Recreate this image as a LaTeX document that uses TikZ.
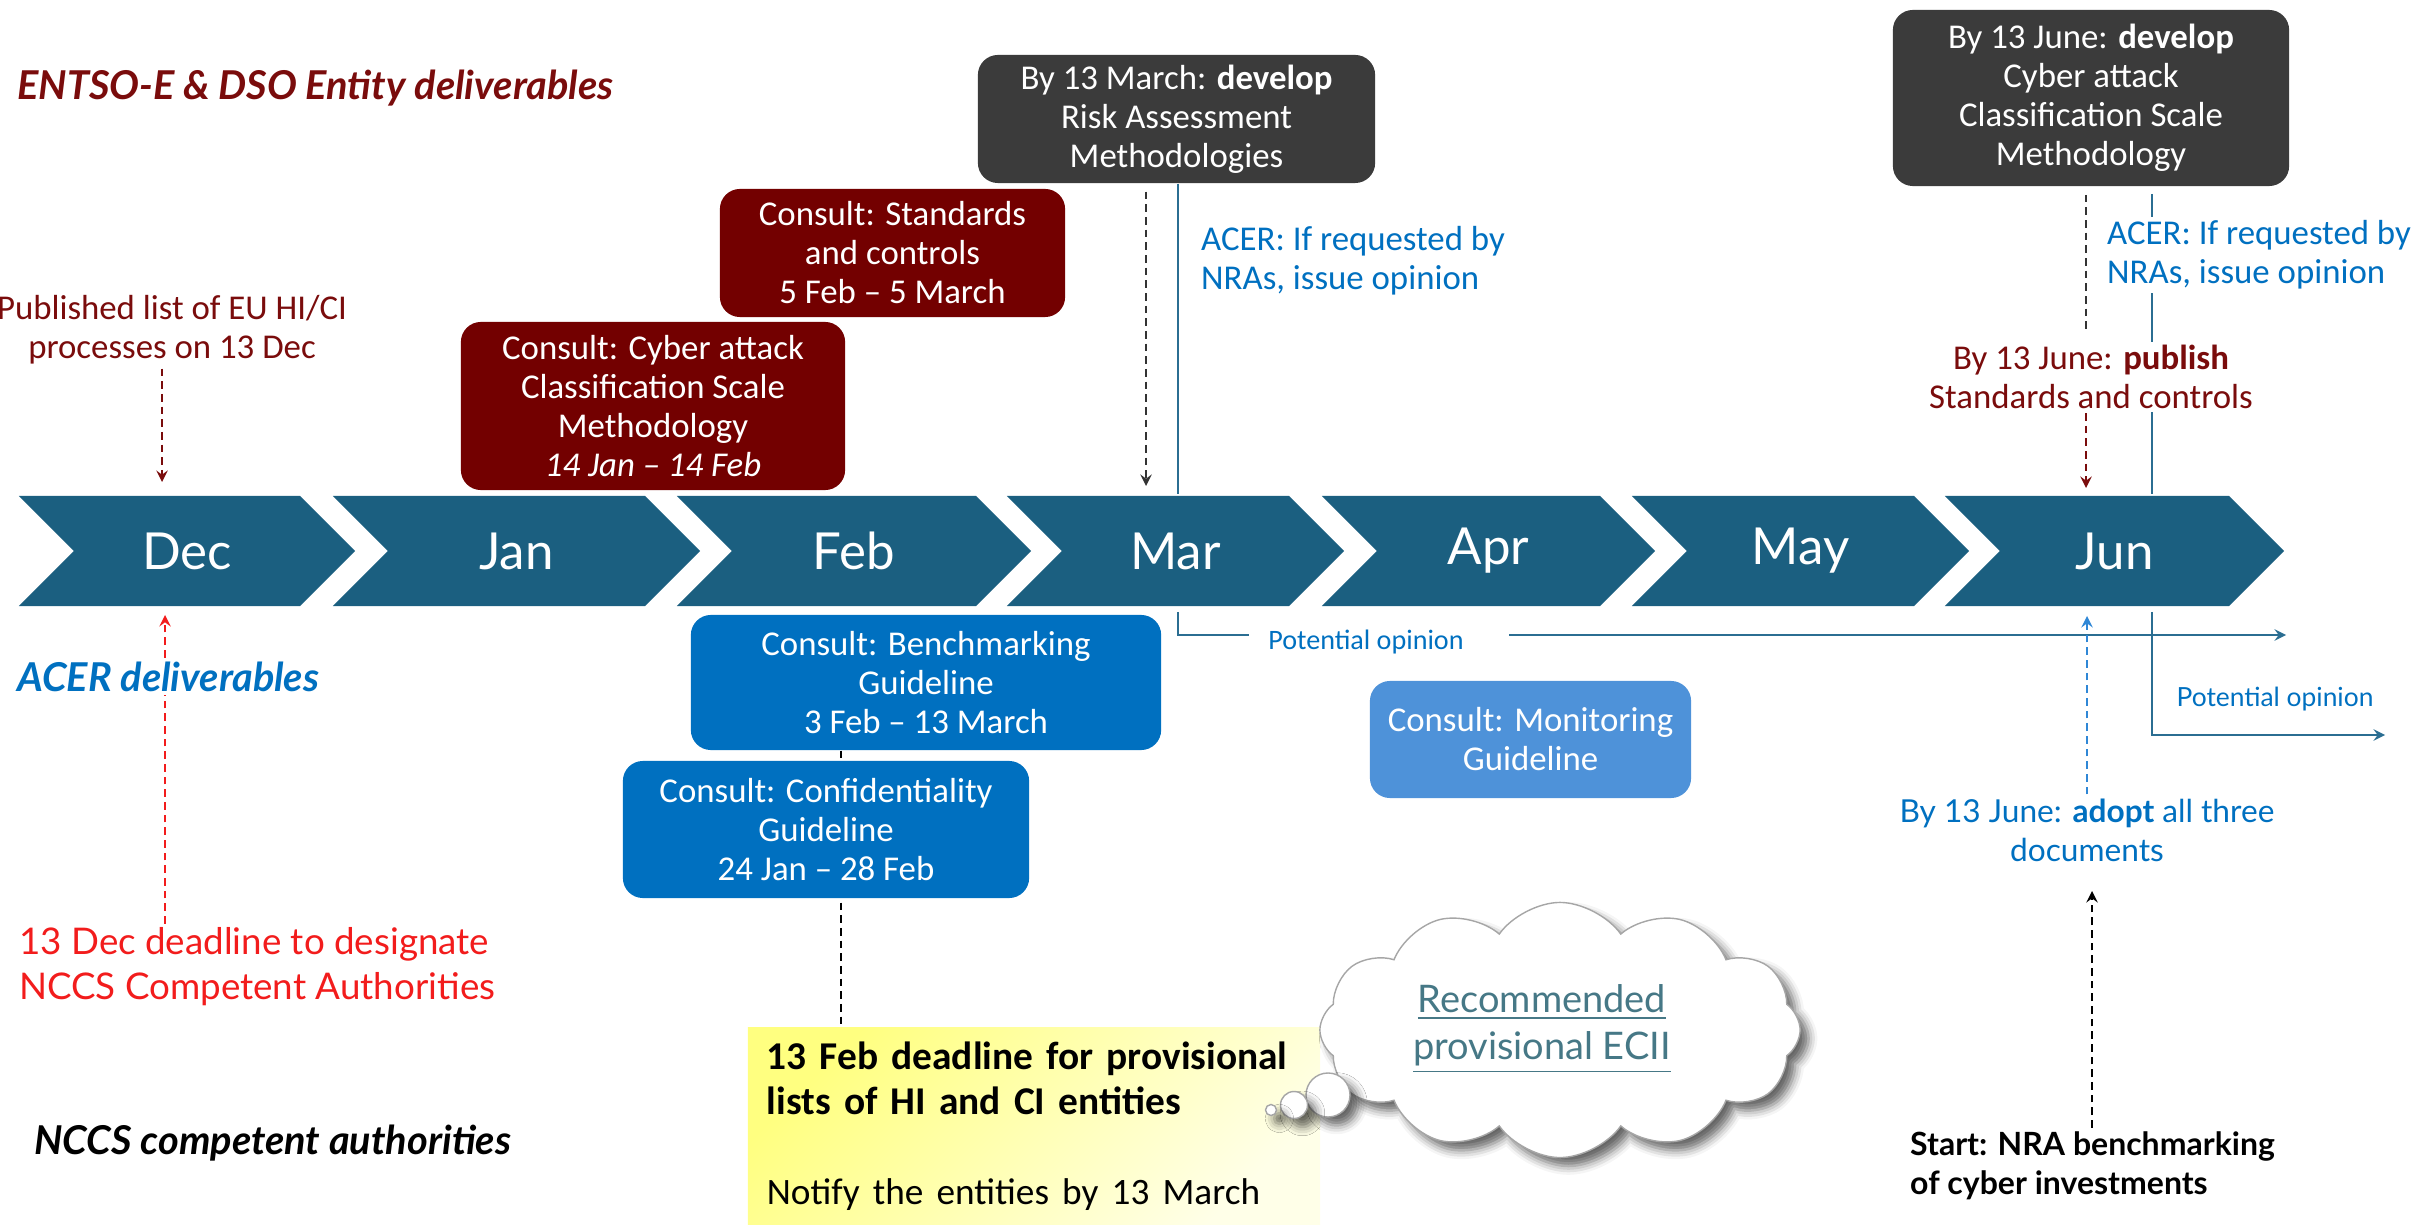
\documentclass[tikz,border=0pt]{standalone}
\usepackage{fontspec}
\setmainfont{Carlito}
\newfontfamily\widefont{Lato}
\usetikzlibrary{arrows,positioning,shapes.symbols,backgrounds,shadows.blur}
\definecolor{band}{HTML}{1B5F80}
\definecolor{entso}{HTML}{7A0C0C}
\definecolor{entsobox}{HTML}{730000}
\definecolor{devgrey}{HTML}{3B3B3B}
\definecolor{acer}{HTML}{0070C0}
\definecolor{acerlight}{HTML}{4E92D9}
\definecolor{oppline}{HTML}{2B6E92}
\definecolor{ncred}{HTML}{F21C1C}
\definecolor{adoptblue}{HTML}{2F87D6}
\definecolor{linkcol}{HTML}{467886}
\definecolor{noteA}{HTML}{FFFF80}
\definecolor{noteB}{HTML}{FFFFE8}

\tikzset{
    month/.style={signal, signal from=west, signal to=east, fill=band, text=white,
        minimum height=1.1cm, inner sep=0pt, font=\widefont\fontsize{14.5}{17}\selectfont},
    consult/.style={rounded corners=0.2cm, text=white, align=center, inner sep=0pt,
        font=\fontsize{9.9}{11.1}\selectfont},
    narrow/.style={align=center, inner sep=1pt, font=\fontsize{9.9}{11.1}\selectfont},
    heading/.style={anchor=west, inner sep=1pt, font=\widefont\bfseries\itshape\fontsize{11.3}{13}\selectfont},
    dashline/.style={dashed, dash pattern=on 2.2pt off 1.4pt, line width=0.45pt},
    solidline/.style={line width=0.45pt, oppline},
    puff/.style={draw=gray!70, fill=white,
        blur shadow={shadow xshift=2.4pt, shadow yshift=-2.4pt, shadow blur radius=2.5pt, shadow opacity=60}},
}

\begin{document}
\begin{tikzpicture}[x=0.01cm, y=-0.01cm]
    \useasboundingbox (0,0) rectangle (2412,1225);

    % months
    \node [month, minimum width=3.36cm] (dec) at (187,551) {Dec};
    \node [month, minimum width=3.67cm] (jan) at (516.5,551) {Jan};
    \node [month, minimum width=3.54cm] (feb) at (854,551) {Feb};
    \node [month, minimum width=3.37cm] (mar) at (1175.5,551) {Mar};
    \node [month, minimum width=3.33cm] (apr) at (1488.5,551) {Apr};
    \node [month, minimum width=3.37cm] (may) at (1800.5,551) {May};
    \node [month, minimum width=3.39cm] (jun) at (2114.5,551) {Jun};

    % ENTSO-E and DSO side
    \node [heading, text=entso] (entsohead) at (13,88) {ENTSO-E \& DSO Entity deliverables};
    \node [narrow, text=entso] (publist) at (172,330) {Published list of EU HI/CI\\processes on 13 Dec};
    \node [consult, fill=entsobox, minimum width=3.84cm, minimum height=1.68cm] (cyber) at (653,406)
        {Consult: Cyber attack\\Classification Scale\\Methodology\\\textit{14 Jan -- 14 Feb}};
    \node [consult, fill=entsobox, minimum width=3.45cm, minimum height=1.28cm] (stand) at (892.5,253)
        {Consult: Standards\\and controls\\5 Feb -- 5 March};
    \node [consult, fill=devgrey, minimum width=3.97cm, minimum height=1.28cm] (riskdev) at (1176.5,119)
        {By 13 March: \textbf{develop}\\Risk Assessment\\Methodologies};
    \node [consult, fill=devgrey, minimum width=3.96cm, minimum height=1.76cm] (cyberdev) at (2091,98)
        {By 13 June: \textbf{develop}\\Cyber attack\\Classification Scale\\Methodology};
    \node [narrow, text=acer, align=left, anchor=west] (acermar) at (1197,261) {ACER: If requested by\\NRAs, issue opinion};
    \node [narrow, text=acer, align=left, anchor=west, fill=white] (acerjun) at (2103,255) {ACER: If requested by\\NRAs, issue opinion};
    \node [narrow, text=entso, fill=white] (publish) at (2091,377) {By 13 June: \textbf{publish}\\Standards and controls};

    % ACER side
    \node [heading, text=acer, fill=white] (acerhead) at (13,677) {ACER deliverables};
    \node [consult, fill=acer, minimum width=4.70cm, minimum height=1.35cm] (bench) at (926,682.5)
        {Consult: Benchmarking\\Guideline\\3 Feb -- 13 March};
    \node [consult, fill=acer, minimum width=4.06cm, minimum height=1.37cm] (confid) at (826,829.5)
        {Consult: Confidentiality\\Guideline\\24 Jan -- 28 Feb};
    \node [consult, fill=acerlight, minimum width=3.21cm, minimum height=1.17cm] (monitor) at (1530.5,739.5)
        {Consult: Monitoring\\Guideline};
    \node [narrow, text=acer, font=\fontsize{8}{9}\selectfont] (opmar) at (1366,642) {Potential opinion};
    \node [text=acer, inner sep=1pt, font=\widefont\fontsize{7.5}{9}\selectfont] (opjun) at (2275,699) {Potential opinion};
    \node [text=acer, align=center, inner sep=1pt, font=\widefont\fontsize{9}{11.1}\selectfont] (adopt) at (2087,830)
        {By 13 June: \textbf{adopt} all three\\documents};

    % NCCS side
    \node [anchor=west, text=ncred, align=left, inner sep=1pt, font=\widefont\fontsize{10.45}{12.8}\selectfont] (dl13) at (15,967)
        {13 Dec deadline to designate\\NCCS Competent Authorities};
    \node [heading, text=black] (nccshead) at (30,1143) {NCCS competent authorities};
    \node [anchor=west, align=left, inner sep=1pt, font=\widefont\bfseries\fontsize{9.1}{11.1}\selectfont] (start) at (1906,1166)
        {Start: NRA benchmarking\\of cyber investments};
    \node [left color=noteA, right color=noteB, shading angle=45, minimum width=5.72cm, minimum height=1.97cm,
        text width=5.34cm, align=left, inner xsep=0.19cm, font=\fontsize{11.2}{12.8}\selectfont] (provlist) at (1034,1126.5)
        {\textbf{13 Feb deadline for provisional}\\\textbf{lists of HI and CI entities}\\[12.8pt]{\fontsize{10.6}{12.8}\selectfont Notify the entities by 13 March}};
    \node [cloud, cloud puffs=12, cloud puff arc=110, aspect=1.9, puff,
        minimum width=4.8cm, minimum height=2.55cm] (cloud) at (1560,1030) {};
    \node [circle, puff, minimum size=0.44cm, inner sep=0pt] (puffA) at (1328,1095) {};
    \node [circle, puff, minimum size=0.27cm, inner sep=0pt] (puffB) at (1294,1105) {};
    \node [circle, puff, minimum size=0.11cm, inner sep=0pt] (puffC) at (1271,1110) {};
    \node [text=linkcol, align=center, inner sep=1pt, font=\widefont\fontsize{10.8}{13.4}\selectfont] (ecii) at (1542,1029)
        {\underline{Recommended}\\\underline{provisional ECII}};

    % arrow ends on the band
    \coordinate (decIn) at (162,482);
    \coordinate (decUp) at (165,615);
    \coordinate (marIn) at (1146,486);
    \coordinate (marLine) at (1178,494);
    \coordinate (opmarA) at (1178,612);
    \coordinate (opmarB) at (1249,635);
    \coordinate (opmarC) at (1509,635);
    \coordinate (opmarD) at (2286,635);
    \coordinate (junIn) at (2086,488);
    \coordinate (junLine) at (2152,494);
    \coordinate (junB) at (2152,612);
    \coordinate (junC) at (2385,735);
    \coordinate (junUp) at (2087,616);
    \coordinate (adoptIn) at (2092,891);
    \coordinate (provIn) at (841,1028);

    \begin{scope}[on background layer]
        \draw [dashline, entso, -stealth] (publist.south -| decIn) -- (decIn);
        \draw [dashline, ncred, -stealth] (dl13.north -| decUp) -- (decUp);
        \draw [dashline, black!80, -stealth, shorten <=0.08cm] (riskdev.south -| marIn) -- (marIn);
        \draw [solidline] (riskdev.south -| marLine) -- (marLine);
        \draw [solidline] (opmarA) |- (opmarB);
        \draw [solidline, -stealth] (opmarC) -- (opmarD);
        \draw [dashline, black!80, shorten <=0.08cm, shorten >=0.08cm] (cyberdev.south -| junIn) -- (publish.north -| junIn);
        \draw [dashline, entso, -stealth] (publish.south -| junIn) -- (junIn);
        \draw [solidline, shorten <=0.07cm] (cyberdev.south -| junLine) -- (junLine);
        \draw [solidline, -stealth] (junB) |- (junC);
        \draw [dashline, adoptblue, -stealth] (adopt.north -| junUp) -- (junUp);
        \draw [dashline, black, -stealth] (start.north -| adoptIn) -- (adoptIn);
        \draw [dashline, black] (bench.south -| provIn) -- (provIn);
    \end{scope}
\end{tikzpicture}
\end{document}
